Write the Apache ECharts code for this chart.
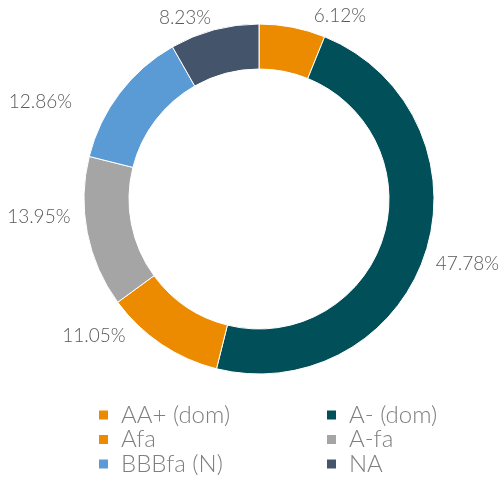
<!DOCTYPE html>
<html>
<head>
<meta charset="utf-8">
<script src="https://cdn.jsdelivr.net/npm/echarts@6/dist/echarts.min.js"></script>
<style>
  html, body { margin: 0; padding: 0; background: #fff; }
  #chart { width: 503px; height: 477px; }
</style>
</head>
<body>
<div id="chart"></div>
<script>
// categories, values (%) and colours
const names = ['AA+ (dom)', 'A- (dom)', 'Afa', 'A-fa', 'BBBfa (N)', 'NA']
const values = [6.12, 47.78, 11.05, 13.95, 12.86, 8.23]
const colors = ['#ED8B00', '#004F59', '#ED8B00', '#A5A5A5', '#5B9BD5', '#44546A']

// legend columns
const leftCol = ['AA+ (dom)', 'Afa', 'BBBfa (N)']
const rightCol = ['A- (dom)', 'A-fa', 'NA']

const chart = echarts.init(document.getElementById('chart'))

// small nudges so the labels sit where the original tool put them
const labelNudge = [[14, 0], [-6, 7], [-24, -18], [0, -18], [-33, 16], [5, 0]]

const pieData = names.map((n, i) => ({
  name: n,
  value: values[i],
  itemStyle: { color: colors[i] },
  label: { offset: labelNudge[i] }
}))

const legendBase = {
  orient: 'vertical',
  icon: 'rect',
  itemWidth: 11,
  itemHeight: 11,
  itemGap: 0.5,
  padding: 0,
  height: 80,
  textStyle: {
    fontFamily: 'Lato',
    fontWeight: 300,
    fontSize: 24,
    color: '#7F7F7F',
    lineHeight: 24,
    padding: [0, 0, 0, 7]
  }
}

const option = {
  animation: false,
  legend: [
    Object.assign({}, legendBase, { data: leftCol, left: 97, top: 403 }),
    Object.assign({}, legendBase, { data: rightCol, left: 325, top: 403 })
  ],
  series: [
    {
      type: 'pie',
      center: [259, 199],
      radius: [130, 175],
      startAngle: 90,
      clockwise: true,
      avoidLabelOverlap: false,
      itemStyle: { borderColor: '#fff', borderWidth: 1 },
      label: {
        show: true,
        position: 'outside',
        formatter: p => p.value.toFixed(2) + '%',
        fontFamily: 'Lato',
        fontWeight: 300,
        fontSize: 19,
        color: '#595959'
      },
      labelLine: { show: false, length: 12, length2: 0 },
      emphasis: { disabled: true },
      data: pieData
    }
  ]
}

chart.setOption(option)
</script>
</body>
</html>
